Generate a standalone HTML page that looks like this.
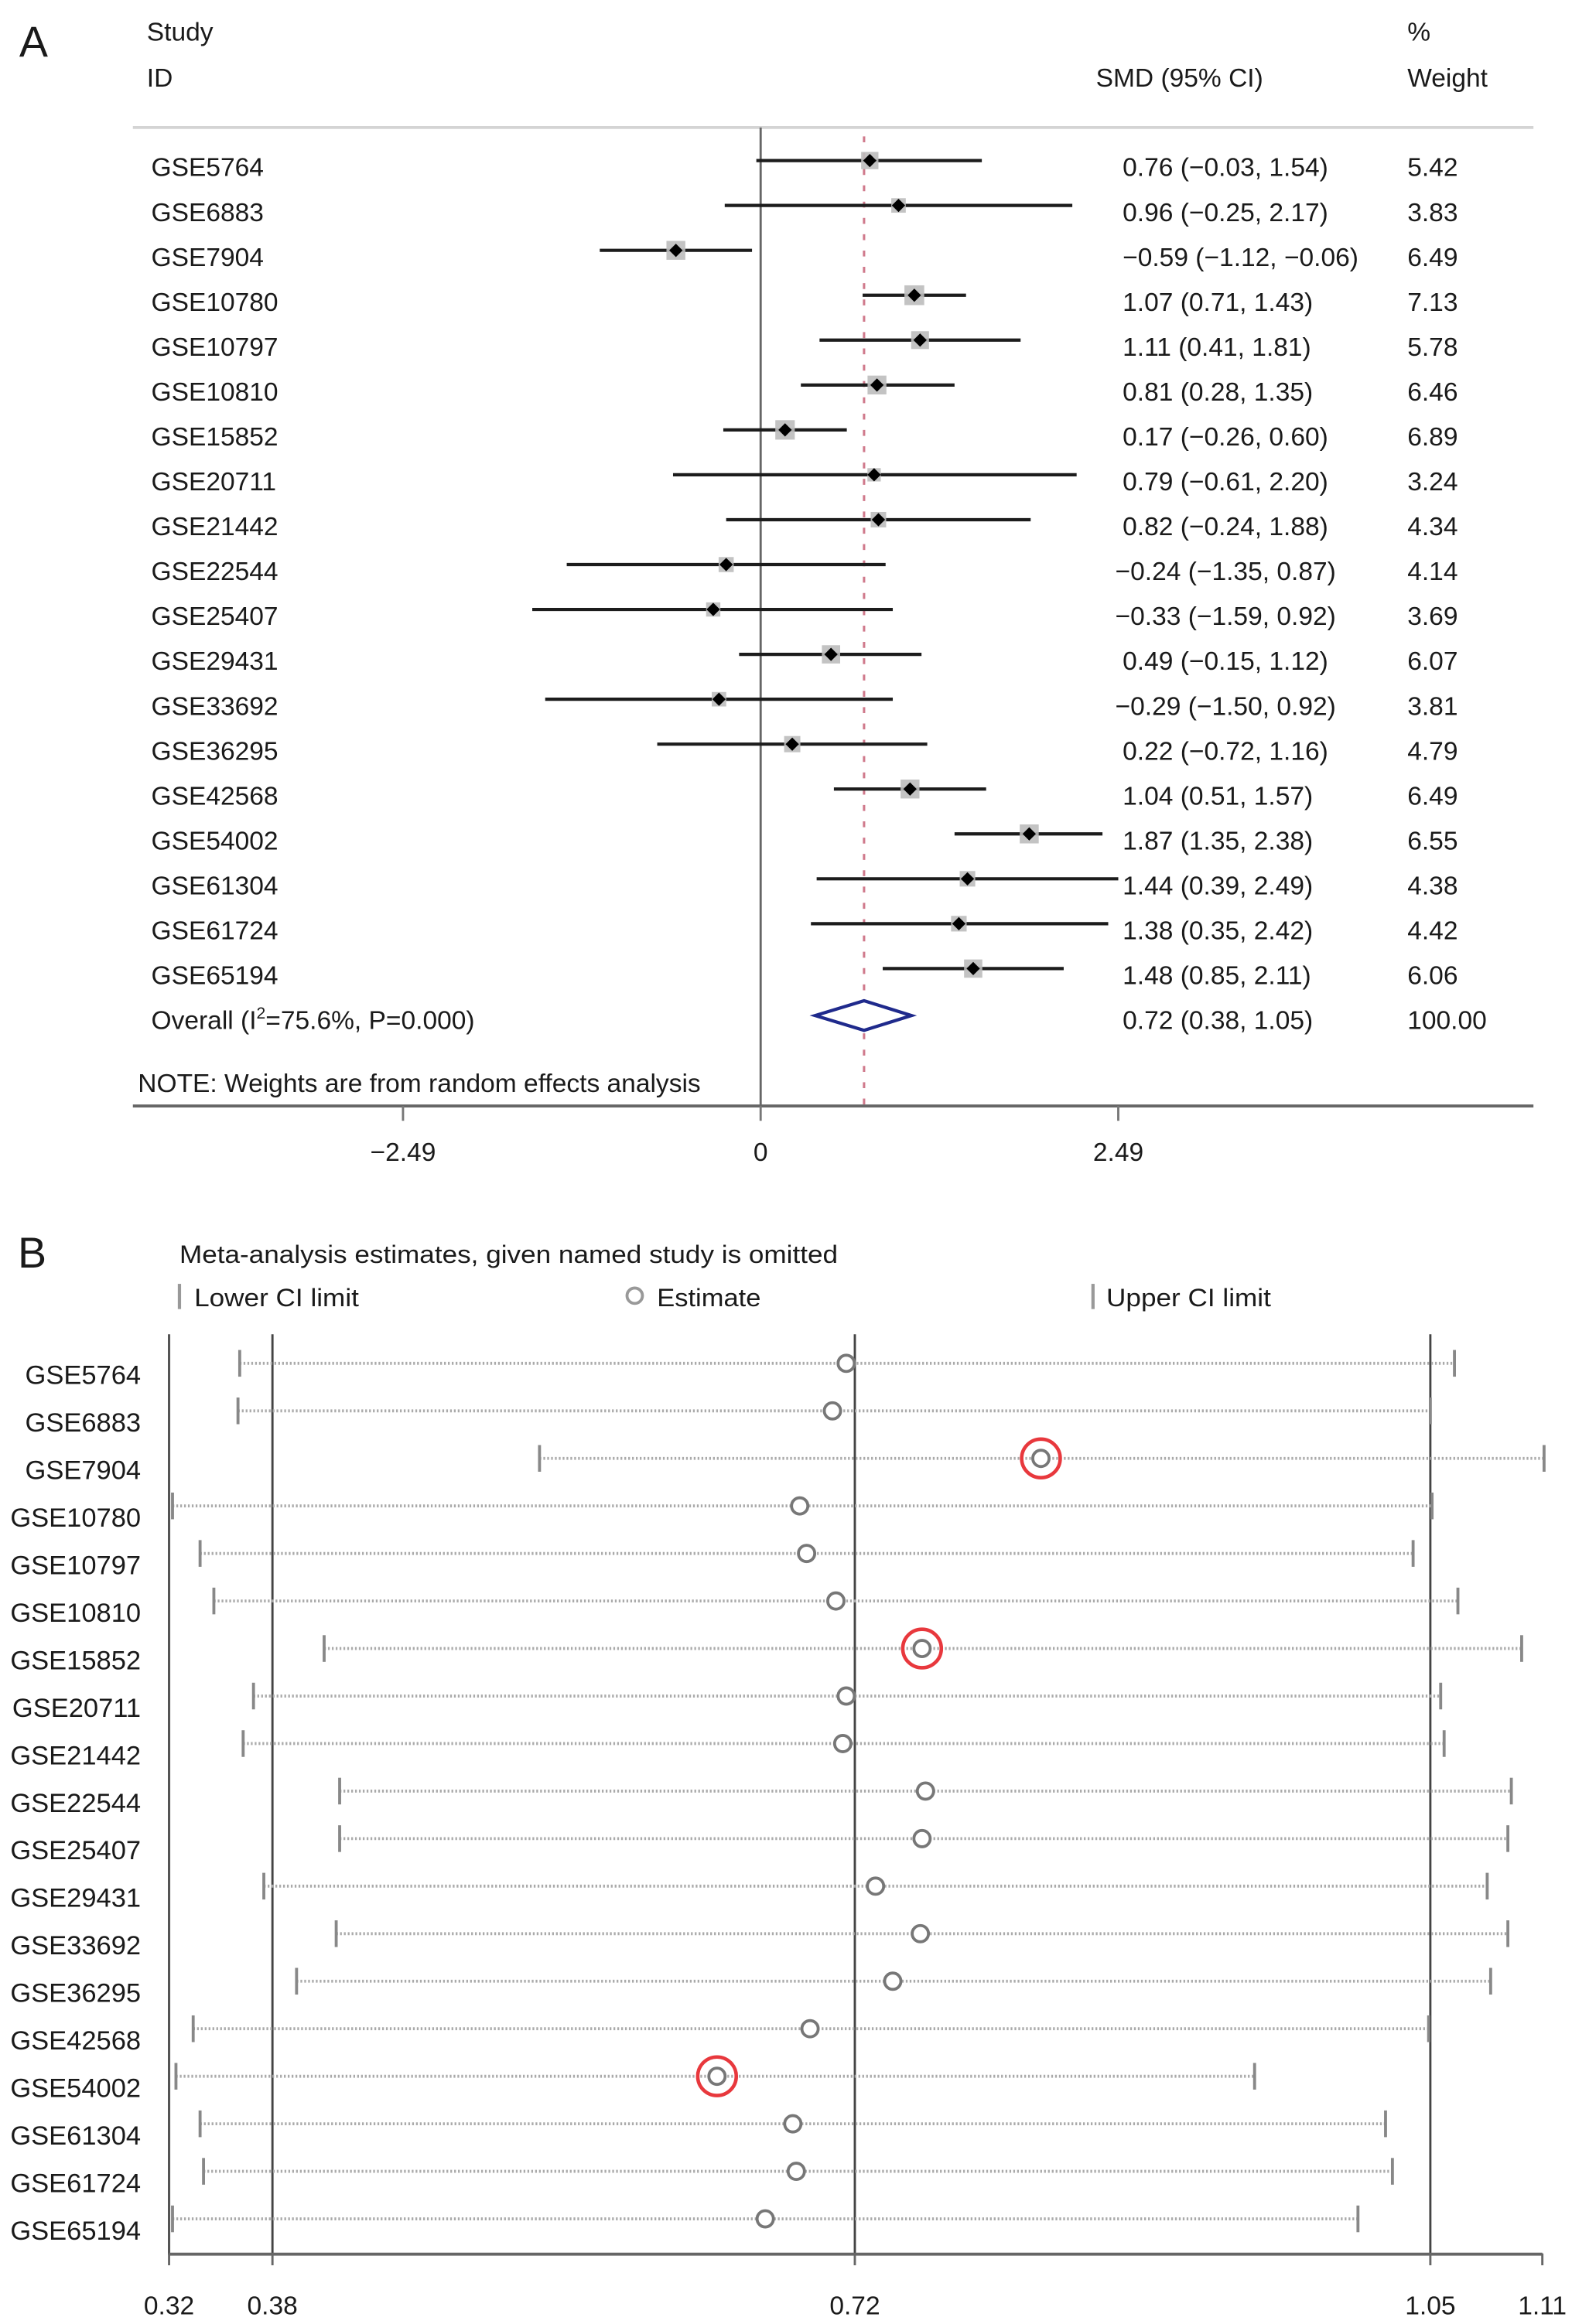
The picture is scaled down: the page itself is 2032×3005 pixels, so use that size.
<!DOCTYPE html>
<html><head><meta charset="utf-8"><title>Forest plot and sensitivity analysis</title>
<style>
html,body{margin:0;padding:0;background:#fff;}
svg{display:block;}
text{font-family:"Liberation Sans",Arial,sans-serif;fill:#1a1a1a;}
</style></head>
<body>
<svg id="fig" width="2032" height="3005" viewBox="0 0 1060 1567.6" preserveAspectRatio="none" xmlns="http://www.w3.org/2000/svg">
<g id="panelA"></g>
<g id="panelB"></g>
</svg>
<script>
// ---------- Panel A data ----------
const studiesA = ["GSE5764","GSE6883","GSE7904","GSE10780","GSE10797","GSE10810","GSE15852","GSE20711","GSE21442","GSE22544","GSE25407","GSE29431","GSE33692","GSE36295","GSE42568","GSE54002","GSE61304","GSE61724","GSE65194"];
const smdA = [0.76,0.96,-0.59,1.07,1.11,0.81,0.17,0.79,0.82,-0.24,-0.33,0.49,-0.29,0.22,1.04,1.87,1.44,1.38,1.48];
const loA = [-0.03,-0.25,-1.12,0.71,0.41,0.28,-0.26,-0.61,-0.24,-1.35,-1.59,-0.15,-1.50,-0.72,0.51,1.35,0.39,0.35,0.85];
const hiA = [1.54,2.17,-0.06,1.43,1.81,1.35,0.60,2.20,1.88,0.87,0.92,1.12,0.92,1.16,1.57,2.38,2.49,2.42,2.11];
const weightA = [5.42,3.83,6.49,7.13,5.78,6.46,6.89,3.24,4.34,4.14,3.69,6.07,3.81,4.79,6.49,6.55,4.38,4.42,6.06];
const overallA = [0.72,0.38,1.05];
const overallLabelA = "100.00";
const ticksA = [-2.49,0,2.49];

// ---------- Panel B data ----------
const studiesB = studiesA.slice();
const lowerB = [0.359,0.358,0.533,0.320,0.336,0.344,0.408,0.367,0.361,0.417,0.417,0.373,0.415,0.392,0.332,0.322,0.336,0.338,0.320];
const estB = [0.711,0.703,0.824,0.684,0.688,0.705,0.755,0.711,0.709,0.757,0.755,0.728,0.754,0.738,0.690,0.636,0.680,0.682,0.664];
const upperB = [1.064,1.050,1.116,1.051,1.040,1.066,1.103,1.056,1.058,1.097,1.095,1.083,1.095,1.085,1.049,0.948,1.024,1.028,1.008];
const highlightB = ["GSE7904","GSE15852","GSE54002"];
const ticksB = [0.318,0.378,0.716,1.050,1.115];
const tickLabelsB = ["0.32","0.38","0.72","1.05","1.11"];
const refLinesB = [0.378,0.716,1.050];

const NS = "http://www.w3.org/2000/svg";
function mk(parent, tag, attrs, txt){
  const e = document.createElementNS(NS, tag);
  for (const k in attrs) e.setAttribute(k, attrs[k]);
  if (txt !== undefined) e.textContent = txt;
  parent.appendChild(e);
  return e;
}
function fmt(v){ const s = Math.abs(v).toFixed(2); return (v < 0 ? "\u2212" : "") + s; }

// ===== Panel A =====
const A = document.getElementById('panelA');
const xA = v => 512.9 + v * 96.85;
const yA = i => 108.3 + i * 30.28;
let t;
t = mk(A,'text',{x:13,y:38,'font-size':29});
t.textContent = 'A';


t = mk(A,'text',{x:99,y:27.5,'font-size':17.5},'Study');


t = mk(A,'text',{x:99,y:58.5,'font-size':17.5},'ID');


t = mk(A,'text',{x:739,y:58.5,'font-size':17.5},'SMD (95% CI)');


t = mk(A,'text',{x:949,y:27.5,'font-size':17.5},'%');


t = mk(A,'text',{x:949,y:58.5,'font-size':17.5},'Weight');



let l = mk(A,'line',{x1:89.6,y1:86,x2:1034,y2:86,stroke:'#d4d4d4','stroke-width':2});


l = mk(A,'line',{x1:xA(0),y1:86,x2:xA(0),y2:746,stroke:'#666','stroke-width':1.5});


l = mk(A,'line',{x1:xA(overallA[0]),y1:92,x2:xA(overallA[0]),y2:746,stroke:'#d07a8c','stroke-width':1.6,'stroke-dasharray':'4 7'});


l = mk(A,'line',{x1:89.6,y1:746,x2:1034,y2:746,stroke:'#666','stroke-width':2});



ticksA.forEach(v=>{
  const tk = mk(A,'line',{x1:xA(v),y1:746,x2:xA(v),y2:756,stroke:'#777','stroke-width':1.5});
  
  
  const tl = mk(A,'text',{x:xA(v),y:783,'font-size':17.5,'text-anchor':'middle'}, v===0?'0':fmt(v));
  
  
});

studiesA.forEach((s,i)=>{
  const y = yA(i);
  const g = mk(A,'g',{});
  
  
  const lab = mk(g,'text',{x:102,y:y+10.5,'font-size':17.5},s);
  
  
  const ci = mk(g,'line',{x1:xA(loA[i]),y1:y,x2:xA(hiA[i]),y2:y,stroke:'#1c1c1c','stroke-width':2.2});
  
  
  const side = 5.0*Math.sqrt(weightA[i]);
  const sq = mk(g,'rect',{x:xA(smdA[i])-side/2,y:y-side/2,width:side,height:side,fill:'#bdbdbd',opacity:0.9});
  
  
  const cx = xA(smdA[i]);
  const dm = mk(g,'polygon',{points:`${cx-4.5},${y} ${cx},${y-4.5} ${cx+4.5},${y} ${cx},${y+4.5}`,fill:'#000'});
  
  
  const et = mk(g,'text',{x:smdA[i]<0&&smdA[i]>-0.5?752:757,y:y+10.5,'font-size':17.5},`${fmt(smdA[i])} (${fmt(loA[i])}, ${fmt(hiA[i])})`);
  
  
  const wt = mk(g,'text',{x:949,y:y+10.5,'font-size':17.5},weightA[i].toFixed(2));
  
  
});

// overall
const yo = 685;
const ov = mk(A,'text',{x:102,y:yo+9,'font-size':17.5});


ov.appendChild(document.createTextNode('Overall (I'));
const sup = mk(ov,'tspan',{'font-size':11,dy:-7},'2');
mk(ov,'tspan',{dy:7},'=75.6%, P=0.000)');
const dmd = mk(A,'polygon',{points:`${xA(overallA[1])},${yo} ${xA(overallA[0])},${yo-10} ${xA(overallA[2])},${yo} ${xA(overallA[0])},${yo+10}`,fill:'#fff',stroke:'#1f2a8c','stroke-width':2.2});


t = mk(A,'text',{x:757,y:yo+9,'font-size':17.5},`${overallA[0].toFixed(2)} (${overallA[1].toFixed(2)}, ${overallA[2].toFixed(2)})`);


t = mk(A,'text',{x:949,y:yo+9,'font-size':17.5},overallLabelA);


t = mk(A,'text',{x:93,y:736.5,'font-size':17.5},'NOTE: Weights are from random effects analysis');



// ===== Panel B =====
const B = document.getElementById('panelB');
const xB = v => 114 + (v - ticksB[0]) * (1040 - 114) / (ticksB[ticksB.length-1] - ticksB[0]);
const yB = i => 919.6 + i * 32.06;
t = mk(B,'text',{x:12,y:855,'font-size':29},'B');


t = mk(B,'text',{x:121,y:852,'font-size':17,textLength:444,lengthAdjust:'spacingAndGlyphs'},'Meta-analysis estimates, given named study is omitted');



// legend
let lg = mk(B,'line',{x1:121,y1:866,x2:121,y2:883,stroke:'#999','stroke-width':2.2});


t = mk(B,'text',{x:131,y:881,'font-size':17,textLength:111,lengthAdjust:'spacingAndGlyphs'},'Lower CI limit');


lg = mk(B,'circle',{cx:428,cy:874,r:5.2,fill:'none',stroke:'#999','stroke-width':2});


t = mk(B,'text',{x:443,y:881,'font-size':17,textLength:70,lengthAdjust:'spacingAndGlyphs'},'Estimate');


lg = mk(B,'line',{x1:737,y1:866,x2:737,y2:883,stroke:'#999','stroke-width':2.2});


t = mk(B,'text',{x:746,y:881,'font-size':17,textLength:111,lengthAdjust:'spacingAndGlyphs'},'Upper CI limit');



// axes & reference lines
l = mk(B,'line',{x1:xB(ticksB[0]),y1:900,x2:xB(ticksB[0]),y2:1521,stroke:'#555','stroke-width':1.6});


refLinesB.forEach(v=>{
  const r = mk(B,'line',{x1:xB(v),y1:900,x2:xB(v),y2:1521,stroke:'#444','stroke-width':1.5});
  
  
});
l = mk(B,'line',{x1:xB(ticksB[0]),y1:1520.5,x2:xB(ticksB[ticksB.length-1]),y2:1520.5,stroke:'#666','stroke-width':2});


ticksB.forEach((v,k)=>{
  const tk = mk(B,'line',{x1:xB(v),y1:1520,x2:xB(v),y2:1528,stroke:'#666','stroke-width':1.5});
  
  
  const tl = mk(B,'text',{x:xB(v),y:1561,'font-size':17.5,'text-anchor':'middle'},tickLabelsB[k]);
  
  
});

studiesB.forEach((s,i)=>{
  const y = yB(i);
  const g = mk(B,'g',{});
  
  
  const lab = mk(g,'text',{x:95,y:y+14,'font-size':18,'text-anchor':'end'},s);
  
  
  const dl = mk(g,'line',{x1:xB(lowerB[i]),y1:y,x2:xB(upperB[i]),y2:y,stroke:'#aaa','stroke-width':2,'stroke-dasharray':'1.2 1.4'});
  
  
  const lo = mk(g,'line',{x1:xB(lowerB[i]),y1:y-9,x2:xB(lowerB[i]),y2:y+9,stroke:'#888','stroke-width':2});
  
  
  const up = mk(g,'line',{x1:xB(upperB[i]),y1:y-9,x2:xB(upperB[i]),y2:y+9,stroke:'#888','stroke-width':2});
  
  
  const c = mk(g,'circle',{cx:xB(estB[i]),cy:y,r:5.5,fill:'#fff',stroke:'#777','stroke-width':2});
  
  
  if (highlightB.indexOf(s) >= 0){
    const rc = mk(g,'circle',{cx:xB(estB[i]),cy:y,r:13,fill:'none',stroke:'#e8383d','stroke-width':2.4});
    
    
  }
});
</script>
</body></html>
